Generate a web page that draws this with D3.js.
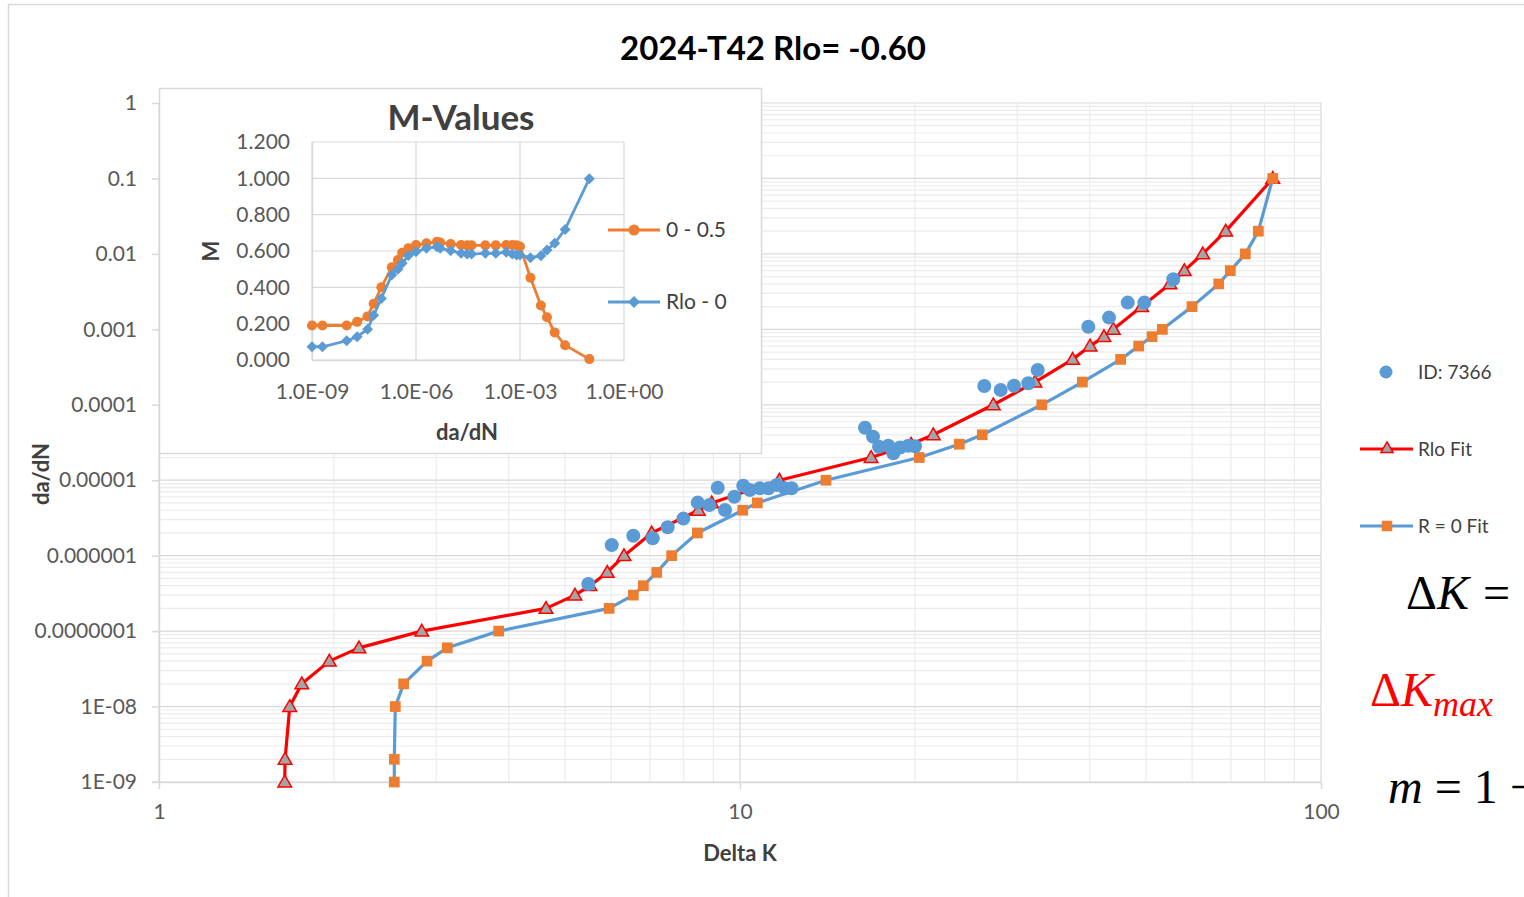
<!DOCTYPE html>
<html>
<head>
<meta charset="utf-8">
<script src="https://cdn.jsdelivr.net/npm/d3@7"></script>
<style>
  html, body { margin: 0; padding: 0; background: #fff; }
  svg { display: block; }
  text { font-family: Lato, "Open Sans", sans-serif; }
  text.math, text.math tspan { font-family: "Liberation Serif", "DejaVu Serif", serif; }
</style>
</head>
<body>
<svg id="chart" width="1524" height="897"></svg>
<script>
// ---------------- DATA ----------------
const chartTitle = "2024-T42 Rlo= -0.60";
const yTickValues = [1e-9, 1e-8, 1e-7, 1e-6, 1e-5, 1e-4, 1e-3, 1e-2, 1e-1, 1];
const yTickLabels = ["1E-09", "1E-08", "0.0000001", "0.000001", "0.00001", "0.0001", "0.001", "0.01", "0.1", "1"];
const xTickValues = [1, 10, 100];
const xTickLabels = ["1", "10", "100"];

// da/dN levels shared by the fit curves
const fitDadN = [1e-9, 2e-9, 1e-8, 2e-8, 4e-8, 6e-8, 1e-7, 2e-7, 3e-7, 4e-7, 6e-7, 1e-6, 2e-6, 4e-6, 5e-6,
                 1e-5, 2e-5, 3e-5, 4e-5, 1e-4, 2e-4, 4e-4, 6e-4, 8e-4, 1e-3, 2e-3, 4e-3, 6e-3, 1e-2, 2e-2, 1e-1];
const rloFitDK = [1.646, 1.648, 1.679, 1.761, 1.964, 2.209, 2.833, 4.636, 5.200, 5.518, 5.909, 6.315, 7.047, 8.478, 8.941,
                  11.69, 16.81, 19.70, 21.51, 27.29, 32.19, 37.37, 40.04, 42.31, 43.91, 49.13, 54.97, 58.18, 62.58, 68.55, 82.60];
const r0FitDK = [2.541, 2.541, 2.551, 2.637, 2.893, 3.135, 3.843, 5.953, 6.552, 6.817, 7.189, 7.627, 8.446, 10.11, 10.71,
                 14.06, 20.35, 23.85, 26.12, 33.06, 38.84, 45.20, 48.56, 51.19, 53.33, 59.98, 66.68, 69.81, 74.09, 78.01, 82.60];

// test data ID: 7366
const idDK = [5.482, 6.015, 6.552, 7.074, 7.508, 7.989, 8.458, 8.856, 9.155, 9.423, 9.777, 10.13, 10.40, 10.82, 11.19, 11.57, 11.95, 12.27,
              16.41, 16.94, 17.35, 18.00, 18.36, 18.86, 19.49, 20.01,
              26.33, 28.10, 29.62, 31.35, 32.54, 39.77, 43.17, 46.49, 49.65, 55.69];
const idDadN = [4.21e-7, 1.38e-6, 1.84e-6, 1.70e-6, 2.38e-6, 3.10e-6, 5.05e-6, 4.69e-6, 7.96e-6, 4.03e-6, 6.04e-6, 8.45e-6, 7.41e-6, 7.81e-6, 7.81e-6, 8.65e-6, 7.81e-6, 7.81e-6,
                4.95e-5, 3.78e-5, 2.78e-5, 2.86e-5, 2.28e-5, 2.72e-5, 2.86e-5, 2.82e-5,
                1.77e-4, 1.57e-4, 1.79e-4, 1.93e-4, 2.89e-4, 1.08e-3, 1.43e-3, 2.26e-3, 2.26e-3, 4.61e-3];

// inset "M-Values"
const insetTitle = "M-Values";
const insetYTicks = [0, 0.2, 0.4, 0.6, 0.8, 1.0, 1.2];
const insetXTicks = [1e-9, 1e-6, 1e-3, 1];
const insetXTickLabels = ["1.0E-09", "1.0E-06", "1.0E-03", "1.0E+00"];
const mSeries05 = [0.19, 0.19, 0.19, 0.21, 0.24, 0.31, 0.40, 0.51, 0.55, 0.59, 0.615, 0.633, 0.642, 0.651, 0.647,
                   0.639, 0.633, 0.631, 0.631, 0.631, 0.631, 0.633, 0.633, 0.631, 0.625, 0.453, 0.30, 0.235, 0.152, 0.081, 0.005];
const mSeriesRlo = [0.073, 0.073, 0.106, 0.128, 0.169, 0.246, 0.339, 0.468, 0.50, 0.532, 0.575, 0.596, 0.615, 0.624, 0.615,
                    0.602, 0.587, 0.583, 0.583, 0.587, 0.587, 0.593, 0.583, 0.578, 0.578, 0.563, 0.574, 0.606, 0.642, 0.719, 0.998];

const legendNames = ["ID: 7366", "Rlo Fit", "R = 0 Fit"];
const insetLegendNames = ["0 - 0.5", "Rlo - 0"];

// ---------------- STYLE ----------------
const C = {
  blue: "#5B9BD5", orange: "#ED7D31", red: "#FF0000", gray: "#A5A5A5",
  gridMajor: "#d9d9d9", gridMinor: "#ececec", label: "#595959", title: "#404040"
};

const svg = d3.select("#chart");

// outer chart border
svg.append("rect").attr("x", 8.5).attr("y", 4.5).attr("width", 1600).attr("height", 1000)
  .attr("fill", "#fff").attr("stroke", "#d9d9d9").attr("stroke-width", 1.5);

// ---------------- MAIN SCALES ----------------
const x = d3.scaleLog().domain([1, 100]).range([159, 1321]);
const y = d3.scaleLog().domain([1e-9, 1]).range([782, 103]);

const xMinor = [], yMinor = [];
for (let e = 0; e < 2; e++) for (let k = 2; k <= 9; k++) xMinor.push(k * Math.pow(10, e));
for (let e = -9; e < 0; e++) for (let k = 2; k <= 9; k++) yMinor.push(k * Math.pow(10, e));

const grid = svg.append("g");
grid.selectAll(".ymin").data(yMinor).join("line")
  .attr("x1", x(1)).attr("x2", x(100)).attr("y1", d => y(d)).attr("y2", d => y(d))
  .attr("stroke", C.gridMinor).attr("stroke-width", 1.2);
grid.selectAll(".xmin").data(xMinor).join("line")
  .attr("y1", y(1e-9)).attr("y2", y(1)).attr("x1", d => x(d)).attr("x2", d => x(d))
  .attr("stroke", C.gridMinor).attr("stroke-width", 1.2);
grid.selectAll(".ymaj").data(yTickValues).join("line")
  .attr("x1", x(1)).attr("x2", x(100)).attr("y1", d => y(d)).attr("y2", d => y(d))
  .attr("stroke", C.gridMajor).attr("stroke-width", 1.2);
grid.selectAll(".xmaj").data(xTickValues).join("line")
  .attr("y1", y(1e-9)).attr("y2", y(1)).attr("x1", d => x(d)).attr("x2", d => x(d))
  .attr("stroke", C.gridMajor).attr("stroke-width", 1.2);

// axes
const yAxis = d3.axisLeft(y).tickValues(yTickValues)
  .tickFormat((d, i) => yTickLabels[i]).tickSize(7).tickSizeOuter(0).tickPadding(15);
const gy = svg.append("g").attr("transform", `translate(${x(1)},0)`).call(yAxis);
const xAxis = d3.axisBottom(x).tickValues(xTickValues)
  .tickFormat((d, i) => xTickLabels[i]).tickSize(7).tickSizeOuter(0).tickPadding(15);
const gx = svg.append("g").attr("transform", `translate(0,${y(1e-9)})`).call(xAxis);
[gx, gy].forEach(g => {
  g.select(".domain").attr("stroke", C.gridMajor).attr("stroke-width", 1.5);
  g.selectAll(".tick line").attr("stroke", C.gridMajor).attr("stroke-width", 1.5);
  g.selectAll(".tick text").attr("fill", C.label).style("font-size", "21px").style("font-family", "Lato");
});
svg.append("line").attr("x1", x(1) - 7).attr("x2", x(1)).attr("y1", y(1e-9)).attr("y2", y(1e-9))
  .attr("stroke", C.gridMajor).attr("stroke-width", 1.5);

// titles
svg.append("text").attr("x", 773).attr("y", 60).attr("text-anchor", "middle")
  .style("font-size", "33px").style("font-weight", "bold").attr("fill", "#000").text(chartTitle);
svg.append("text").attr("transform", "translate(49,474) rotate(-90)").attr("text-anchor", "middle")
  .style("font-size", "22px").style("font-weight", "bold").attr("fill", C.title).text("da/dN");
svg.append("text").attr("x", 740).attr("y", 861).attr("text-anchor", "middle")
  .style("font-size", "22px").style("font-weight", "bold").attr("fill", C.title).text("Delta K");

// ---------------- MAIN SERIES ----------------
const triangle = d3.symbol().type(d3.symbolTriangle).size(80);
const square = d3.symbol().type(d3.symbolSquare).size(115);
const lineGen = d3.line();

const rloPts = rloFitDK.map((k, i) => [x(k), y(fitDadN[i])]);
const r0Pts = r0FitDK.map((k, i) => [x(k), y(fitDadN[i])]);

svg.append("path").attr("d", lineGen(rloPts)).attr("fill", "none")
  .attr("stroke", C.red).attr("stroke-width", 3.2).attr("stroke-linejoin", "round");
svg.append("g").selectAll("path").data(rloPts).join("path")
  .attr("d", triangle).attr("transform", d => `translate(${d[0]},${d[1] + 1})`)
  .attr("fill", C.gray).attr("stroke", C.red).attr("stroke-width", 1.5);

svg.append("path").attr("d", lineGen(r0Pts)).attr("fill", "none")
  .attr("stroke", C.blue).attr("stroke-width", 3.2).attr("stroke-linejoin", "round");
svg.append("g").selectAll("path").data(r0Pts).join("path")
  .attr("d", square).attr("transform", d => `translate(${d[0]},${d[1]})`)
  .attr("fill", C.orange);

svg.append("g").selectAll("circle").data(idDK.map((k, i) => [x(k), y(idDadN[i])])).join("circle")
  .attr("cx", d => d[0]).attr("cy", d => d[1]).attr("r", 7).attr("fill", C.blue);

// ---------------- LEGEND ----------------
const lg = svg.append("g");
lg.append("circle").attr("cx", 1386).attr("cy", 372).attr("r", 6.5).attr("fill", C.blue);
lg.append("line").attr("x1", 1360).attr("x2", 1413).attr("y1", 449).attr("y2", 449)
  .attr("stroke", C.red).attr("stroke-width", 3.2);
lg.append("path").attr("d", triangle.size(65)()).attr("transform", "translate(1387,449)")
  .attr("fill", C.gray).attr("stroke", C.red).attr("stroke-width", 1.5);
lg.append("line").attr("x1", 1360).attr("x2", 1413).attr("y1", 526).attr("y2", 526)
  .attr("stroke", C.blue).attr("stroke-width", 3.2);
lg.append("path").attr("d", square.size(110)()).attr("transform", "translate(1387,526)")
  .attr("fill", C.orange);
[372, 449, 526].forEach((yy, i) => {
  lg.append("text").attr("x", 1418).attr("y", yy).attr("dy", "0.35em")
    .style("font-size", "19px").attr("fill", C.title).text(legendNames[i]);
});

// ---------------- EQUATIONS (cropped at right edge, as in the reference) ----------------
const eq1 = svg.append("text").attr("class", "math").attr("x", 1406).attr("y", 609).style("font-size", "48px").attr("fill", "#000");
eq1.append("tspan").text("Δ");
eq1.append("tspan").style("font-style", "italic").text("K");
eq1.append("tspan").attr("dx", 14).text("=");
const eq2 = svg.append("text").attr("class", "math").attr("x", 1370).attr("y", 706).style("font-size", "48px").attr("fill", "#FF0000");
eq2.append("tspan").text("Δ");
eq2.append("tspan").style("font-style", "italic").text("K");
eq2.append("tspan").style("font-style", "italic").style("font-size", "36px").attr("dy", 10).text("max");
const eq3 = svg.append("text").attr("class", "math").attr("x", 1388).attr("y", 803).style("font-size", "48px").attr("fill", "#000");
eq3.append("tspan").style("font-style", "italic").text("m");
eq3.append("tspan").attr("dx", 12).text("=");
eq3.append("tspan").attr("dx", 12).text("1");
eq3.append("tspan").attr("dx", 12).text("−");

// ---------------- INSET ----------------
const ins = svg.append("g");
ins.append("rect").attr("x", 159.5).attr("y", 88.5).attr("width", 602).attr("height", 365)
  .attr("fill", "#fff").attr("stroke", "#d9d9d9").attr("stroke-width", 1.5);

const xi = d3.scaleLog().domain([1e-9, 1]).range([312, 624]);
const yi = d3.scaleLinear().domain([0, 1.2]).range([360, 142]);

ins.selectAll(".ig").data(insetYTicks).join("line")
  .attr("x1", xi(1e-9)).attr("x2", xi(1)).attr("y1", d => yi(d)).attr("y2", d => yi(d))
  .attr("stroke", C.gridMajor).attr("stroke-width", 1.2);
ins.selectAll(".igx").data(insetXTicks).join("line")
  .attr("y1", yi(0)).attr("y2", yi(1.2)).attr("x1", d => xi(d)).attr("x2", d => xi(d))
  .attr("stroke", C.gridMajor).attr("stroke-width", 1.2);

const iy = d3.axisLeft(yi).tickValues(insetYTicks).tickFormat(d3.format(".3f")).tickSize(0).tickPadding(22);
const giy = ins.append("g").attr("transform", `translate(${xi(1e-9)},0)`).call(iy);
const ix = d3.axisBottom(xi).tickValues(insetXTicks).tickFormat((d, i) => insetXTickLabels[i]).tickSize(0).tickPadding(24);
const gix = ins.append("g").attr("transform", `translate(0,${yi(0)})`).call(ix);
[giy, gix].forEach(g => {
  g.select(".domain").attr("stroke", C.gridMajor).attr("stroke-width", 1.5);
  g.selectAll(".tick text").attr("fill", C.label).style("font-size", "21px").style("font-family", "Lato");
});

ins.append("text").attr("x", 461).attr("y", 130).attr("text-anchor", "middle")
  .style("font-size", "35px").style("font-weight", "bold").attr("fill", C.title).text(insetTitle);
ins.append("text").attr("transform", "translate(219,251) rotate(-90)").attr("text-anchor", "middle")
  .style("font-size", "22px").style("font-weight", "bold").attr("fill", C.title).text("M");
ins.append("text").attr("x", 467).attr("y", 440).attr("text-anchor", "middle")
  .style("font-size", "22px").style("font-weight", "bold").attr("fill", C.title).text("da/dN");

const diamond = (s) => `M0,${-s}L${s},0L0,${s}L${-s},0Z`;
const ptsO = mSeries05.map((m, i) => [xi(fitDadN[i]), yi(m)]);
const ptsB = mSeriesRlo.map((m, i) => [xi(fitDadN[i]), yi(m)]);
ins.append("path").attr("d", lineGen(ptsO)).attr("fill", "none").attr("stroke", C.orange).attr("stroke-width", 2.8);
ins.append("g").selectAll("circle").data(ptsO).join("circle")
  .attr("cx", d => d[0]).attr("cy", d => d[1]).attr("r", 5).attr("fill", C.orange);
ins.append("path").attr("d", lineGen(ptsB)).attr("fill", "none").attr("stroke", C.blue).attr("stroke-width", 2.8);
ins.append("g").selectAll("path.dm").data(ptsB).join("path")
  .attr("d", diamond(5.5)).attr("transform", d => `translate(${d[0]},${d[1]})`).attr("fill", C.blue);

// inset legend
ins.append("line").attr("x1", 608).attr("x2", 660).attr("y1", 230).attr("y2", 230).attr("stroke", C.orange).attr("stroke-width", 2.8);
ins.append("circle").attr("cx", 634).attr("cy", 230).attr("r", 5.5).attr("fill", C.orange);
ins.append("line").attr("x1", 608).attr("x2", 660).attr("y1", 302).attr("y2", 302).attr("stroke", C.blue).attr("stroke-width", 2.8);
ins.append("path").attr("d", diamond(6)).attr("transform", "translate(634,302)").attr("fill", C.blue);
[230, 302].forEach((yy, i) => {
  ins.append("text").attr("x", 666).attr("y", yy).attr("dy", "0.35em")
    .style("font-size", "21px").attr("fill", C.title).text(insetLegendNames[i]);
});
</script>
</body>
</html>
